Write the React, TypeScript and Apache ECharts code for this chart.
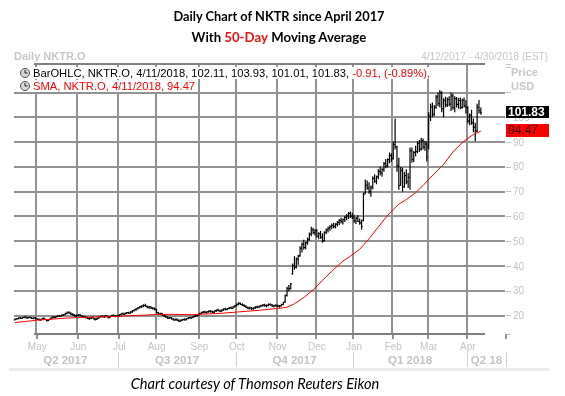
import React, { useEffect, useRef } from "react";
import * as echarts from "echarts";

// ---- calendar ----
const START_DATE = "2017-04-12";
const END_DATE = "2018-04-30";
const HOLIDAYS = [
  "2017-04-14", "2017-05-29", "2017-07-04", "2017-09-04", "2017-11-23", "2017-12-25",
  "2018-01-01", "2018-01-15", "2018-02-19", "2018-03-30",
];
const MONTHS = ["Jan", "Feb", "Mar", "Apr", "May", "Jun", "Jul", "Aug", "Sep", "Oct", "Nov", "Dec"];
const QUARTER_LABELS = ["Q2 2017", "Q3 2017", "Q4 2017", "Q1 2018", "Q2 18"];
const Y_GRID = [20, 30, 40, 50, 60, 70, 80, 90, 100, 110];

// ---- daily OHLC bars [open, high, low, close], one row per trading day from 4/12/2017 ----
const OHLC_APR17 = [
  [18.3, 18.9, 18.0, 18.6], [18.6, 19.0, 18.3, 18.8], [18.8, 19.3, 18.5, 19.1], [19.1, 19.4, 18.7, 18.9],
  [18.9, 19.5, 18.8, 19.3], [19.3, 19.7, 19.0, 19.5], [19.5, 19.6, 18.9, 19.1], [19.1, 19.5, 18.8, 19.3],
  [19.3, 19.6, 19.0, 19.2], [19.2, 19.4, 18.7, 18.9], [18.9, 19.3, 18.6, 19.1], [19.1, 19.4, 18.5, 18.7],
];
const OHLC_MAY17 = [
  [18.7, 19.0, 18.2, 18.5], [18.5, 18.9, 18.0, 18.3], [18.3, 18.8, 17.9, 18.6], [18.6, 19.2, 18.4, 19.0],
  [19.0, 19.1, 18.2, 18.4], [18.4, 18.7, 17.6, 18.0], [18.0, 18.6, 17.8, 18.4], [18.4, 19.2, 18.3, 19.0],
  [19.0, 19.6, 18.8, 19.4], [19.4, 19.8, 19.0, 19.3], [19.3, 19.9, 19.1, 19.7], [19.7, 20.2, 19.4, 19.9],
  [19.9, 20.3, 19.5, 19.8], [19.8, 20.5, 19.6, 20.2], [20.2, 20.7, 19.9, 20.4], [20.4, 21.2, 20.2, 20.9],
  [20.9, 21.7, 20.6, 21.3], [21.3, 21.8, 20.8, 21.0], [21.0, 21.4, 20.3, 20.6], [20.6, 21.0, 20.0, 20.3],
  [20.3, 20.6, 19.6, 19.9], [19.9, 20.4, 19.5, 20.1],
];
const OHLC_JUN17 = [
  [20.1, 20.6, 19.7, 20.3], [20.3, 20.7, 19.8, 20.0], [20.0, 20.3, 19.4, 19.6], [19.6, 20.0, 19.1, 19.4],
  [19.4, 19.8, 18.9, 19.2], [19.2, 19.5, 18.6, 18.8], [18.8, 19.3, 18.3, 18.9], [18.9, 19.6, 18.7, 19.3],
  [19.3, 19.5, 18.5, 18.7], [18.7, 19.1, 18.0, 18.5], [18.5, 19.2, 18.2, 19.0], [19.0, 19.7, 18.8, 19.5],
  [19.5, 20.0, 19.2, 19.7], [19.7, 20.2, 19.3, 19.6], [19.6, 20.1, 19.1, 19.9], [19.9, 20.3, 19.4, 19.6],
  [19.6, 20.0, 18.9, 19.3], [19.3, 19.9, 19.0, 19.7], [19.7, 20.4, 19.5, 20.1], [20.1, 20.5, 19.6, 19.8],
  [19.8, 20.2, 19.3, 19.9], [19.9, 20.3, 19.4, 20.0],
];
const OHLC_JUL17 = [
  [20.0, 20.6, 19.7, 20.4], [20.4, 21.0, 20.1, 20.8], [20.8, 21.3, 20.4, 20.6], [20.6, 21.2, 20.3, 21.0],
  [21.0, 21.5, 20.6, 21.2], [21.2, 21.6, 20.7, 21.0], [21.0, 21.8, 20.8, 21.5], [21.5, 22.3, 21.2, 22.0],
  [22.0, 22.6, 21.7, 22.4], [22.4, 23.1, 22.0, 22.8], [22.8, 23.5, 22.5, 23.2], [23.2, 23.9, 22.9, 23.6],
  [23.6, 24.2, 23.1, 23.9], [23.9, 24.6, 23.4, 24.1], [24.1, 24.8, 23.6, 23.8], [23.8, 24.1, 23.0, 23.4],
  [23.4, 23.9, 22.8, 23.5], [23.5, 23.8, 22.7, 23.0], [23.0, 23.5, 22.4, 22.9], [22.9, 23.3, 22.1, 22.5],
];
const OHLC_AUG17 = [
  [22.5, 22.6, 20.8, 21.2], [21.2, 21.5, 20.4, 20.7], [20.7, 21.2, 20.2, 20.9], [20.9, 21.1, 20.0, 20.3],
  [20.3, 20.6, 19.5, 19.8], [19.8, 20.2, 19.1, 19.4], [19.4, 19.8, 18.7, 19.0], [19.0, 19.5, 18.6, 19.2],
  [19.2, 19.4, 18.4, 18.7], [18.7, 19.0, 18.0, 18.3], [18.3, 18.8, 17.9, 18.6], [18.6, 18.9, 17.8, 18.1],
  [18.1, 18.5, 17.4, 17.8], [17.8, 18.4, 17.5, 18.2], [18.2, 18.7, 17.8, 18.5], [18.5, 18.9, 18.0, 18.3],
  [18.3, 19.0, 18.1, 18.8], [18.8, 19.4, 18.5, 19.2], [19.2, 19.6, 18.8, 19.0], [19.0, 19.7, 18.9, 19.5],
  [19.5, 20.0, 19.2, 19.8], [19.8, 20.4, 19.5, 20.1], [19.9, 20.5, 19.6, 20.3],
];
const OHLC_SEP17 = [
  [20.3, 21.1, 20.1, 20.8], [20.8, 21.6, 20.6, 21.3], [21.3, 21.9, 20.9, 21.5], [21.5, 22.0, 21.0, 21.3],
  [21.3, 21.8, 20.8, 21.6], [21.6, 22.2, 21.2, 21.8], [21.8, 22.3, 21.3, 21.6], [21.6, 22.0, 21.0, 21.4],
  [21.4, 22.1, 21.1, 21.9], [21.9, 22.5, 21.5, 22.2], [22.2, 22.8, 21.8, 22.0], [22.0, 22.4, 21.4, 21.8],
  [21.8, 22.6, 21.6, 22.3], [22.3, 23.0, 22.0, 22.7], [22.7, 23.2, 22.1, 22.5], [22.5, 23.1, 22.2, 22.9],
  [22.9, 23.5, 22.6, 23.2], [23.2, 23.7, 22.7, 23.0], [23.0, 23.8, 22.8, 23.6], [23.6, 24.3, 23.3, 24.0],
];
const OHLC_OCT17 = [
  [24.0, 24.9, 23.7, 24.6], [24.6, 25.4, 24.2, 25.0], [25.0, 25.3, 24.3, 24.5], [24.5, 25.0, 23.9, 24.2],
  [24.2, 24.6, 23.5, 23.8], [23.8, 24.2, 23.0, 23.3], [23.3, 23.7, 22.6, 23.0], [23.0, 23.6, 22.5, 23.2],
  [23.2, 23.5, 22.3, 22.8], [22.8, 23.4, 22.4, 23.1], [23.1, 23.8, 22.8, 23.5], [23.5, 24.0, 23.0, 23.4],
  [23.4, 24.1, 23.1, 23.8], [23.8, 24.4, 23.4, 24.1], [24.1, 24.6, 23.6, 24.3], [24.3, 24.8, 23.7, 24.0],
  [24.0, 24.5, 23.4, 24.2], [24.2, 24.9, 23.8, 24.5], [24.5, 25.0, 24.0, 24.3], [24.3, 24.7, 23.6, 23.9],
  [23.9, 24.4, 23.3, 24.1], [24.1, 24.6, 23.6, 24.0],
];
const OHLC_NOV17 = [
  [24.0, 24.5, 23.4, 23.8], [23.8, 24.3, 23.2, 24.0], [24.0, 24.8, 23.7, 24.5], [24.5, 25.6, 24.2, 25.3],
  [25.5, 28.5, 25.2, 28.0], [28.2, 31.7, 27.7, 31.0], [31.0, 32.4, 29.8, 30.8], [31.0, 33.2, 30.5, 32.8],
  [37.0, 41.0, 36.5, 40.2], [40.2, 44.0, 38.5, 39.5], [39.5, 43.5, 39.0, 42.8], [42.8, 44.6, 40.5, 43.9],
  [44.2, 48.0, 43.8, 47.2], [47.2, 49.5, 45.5, 48.8], [48.8, 50.6, 46.6, 47.5], [47.5, 49.8, 46.8, 49.4],
  [49.4, 51.5, 48.6, 50.8], [50.8, 53.5, 50.2, 52.9], [52.9, 55.9, 52.0, 54.6], [54.6, 55.5, 52.8, 53.5],
  [53.5, 55.0, 52.3, 54.2],
];
const OHLC_DEC17 = [
  [54.2, 54.8, 51.5, 52.0], [52.0, 53.6, 50.8, 53.0], [53.0, 54.2, 51.0, 51.6], [51.6, 53.2, 49.4, 50.2],
  [50.2, 54.0, 49.8, 53.6], [53.6, 55.2, 52.8, 54.6], [54.6, 56.0, 53.5, 55.3], [55.3, 56.5, 54.2, 55.8],
  [55.8, 57.2, 54.8, 56.4], [56.4, 57.5, 55.3, 55.9], [55.9, 57.3, 55.2, 56.9], [56.9, 58.2, 56.0, 57.6],
  [57.6, 59.0, 56.5, 58.4], [58.4, 59.5, 57.2, 58.0], [58.0, 59.2, 56.8, 58.8], [58.8, 60.3, 57.8, 59.6],
  [59.6, 61.0, 58.5, 60.2], [60.2, 61.8, 59.0, 61.2], [61.2, 62.0, 59.4, 60.1], [60.1, 61.5, 59.0, 59.7],
];
const OHLC_JAN18 = [
  [59.7, 60.7, 57.5, 58.2], [58.2, 59.8, 57.0, 59.3], [59.3, 60.5, 57.8, 58.0], [58.0, 59.2, 56.7, 57.4],
  [57.4, 58.7, 54.7, 56.0], [58.5, 69.6, 58.0, 68.8], [69.5, 74.9, 69.0, 72.6], [72.6, 74.5, 70.8, 71.5],
  [71.5, 73.8, 69.2, 70.0], [70.0, 72.5, 68.0, 71.8], [71.8, 76.2, 71.0, 75.4], [75.4, 77.0, 73.5, 74.2],
  [74.2, 76.5, 73.0, 76.0], [76.0, 79.0, 75.0, 78.2], [78.2, 80.2, 76.5, 77.5], [77.5, 79.5, 76.0, 79.0],
  [79.0, 82.0, 78.0, 81.3], [81.3, 83.2, 79.5, 80.4], [80.4, 83.5, 79.8, 82.9], [82.9, 85.8, 81.5, 84.6],
  [84.6, 85.5, 82.0, 83.3],
];
const OHLC_FEB18 = [
  [83.3, 90.3, 83.0, 89.0], [89.0, 99.5, 87.0, 88.2], [88.0, 88.5, 78.0, 80.5], [80.5, 83.7, 70.8, 72.5],
  [72.5, 80.0, 72.4, 78.5], [78.5, 79.7, 70.1, 72.0], [72.0, 78.0, 71.5, 76.5], [76.5, 79.0, 73.0, 74.0],
  [74.0, 77.5, 71.5, 75.8], [75.8, 87.8, 70.8, 86.5], [86.5, 87.8, 81.7, 83.0], [83.0, 86.5, 82.0, 85.8],
  [85.8, 88.5, 84.3, 86.2], [86.2, 90.3, 85.5, 89.4], [89.4, 90.8, 86.0, 87.2], [87.2, 91.8, 86.5, 90.6],
  [90.6, 91.5, 87.0, 88.0], [88.0, 90.5, 86.5, 89.2], [89.2, 90.3, 82.2, 84.0],
];
const OHLC_MAR18 = [
  [88.0, 102.0, 87.0, 100.5], [100.5, 105.5, 98.5, 104.2], [104.2, 106.0, 100.0, 101.2], [101.2, 105.0, 100.4, 104.0],
  [104.0, 109.0, 103.5, 108.2], [108.2, 110.0, 104.5, 105.5], [105.5, 111.0, 104.0, 109.8], [109.8, 110.5, 102.0, 103.5],
  [103.5, 107.7, 100.0, 106.8], [106.8, 108.3, 104.0, 105.0], [105.0, 108.0, 104.2, 107.2], [107.2, 108.5, 104.5, 105.3],
  [105.3, 110.0, 102.5, 108.6], [108.6, 109.5, 103.0, 104.0], [104.0, 108.5, 102.0, 107.5], [107.5, 108.2, 104.0, 105.2],
  [105.2, 107.8, 103.5, 106.8], [106.8, 108.0, 103.2, 104.0], [104.0, 107.5, 103.5, 106.9], [106.9, 108.0, 104.0, 104.6],
  [104.6, 107.0, 101.5, 104.0],
];
const OHLC_APR18 = [
  [104.0, 104.5, 97.5, 98.5], [98.5, 101.5, 96.8, 100.8], [100.8, 103.0, 97.0, 97.8], [97.8, 99.5, 94.0, 96.0],
  [96.0, 97.8, 90.3, 94.5], [94.5, 105.5, 94.0, 104.0], [104.0, 107.0, 101.5, 102.74], [102.11, 103.93, 101.01, 101.83],
];

// ---- 50-day SMA: [trading-day index, value] ----
const SMA_POINTS = [
  [0, 17.2], [5, 17.6], [12, 18.2], [20, 18.6], [25, 18.9], [33, 19.2], [40, 19.4], [50, 19.6],
  [56, 19.7], [62, 20.0], [70, 20.2], [76, 20.5], [85, 20.5], [95, 20.4], [100, 20.6], [110, 20.9],
  [120, 21.5], [130, 22.1], [141, 22.9], [146, 23.4], [150, 24.8], [155, 27.3], [160, 30.4], [165, 34.2],
  [170, 37.9], [176, 42.0], [180, 44.0], [185, 46.8], [190, 51.0], [195, 55.8], [200, 60.5], [203, 62.8],
  [206, 65.0], [210, 66.8], [215, 69.6], [219, 72.5], [222, 74.9], [226, 78.0], [230, 81.0], [235, 86.0],
  [240, 89.8], [245, 92.6], [250, 94.47],
];

const Y_MIN = 12.6;
const Y_MAX = 121.5;

function buildTradingDays(start: string, end: string, holidays: string[]): string[] {
  const out: string[] = [];
  const d = new Date(start + "T00:00:00Z");
  const e = new Date(end + "T00:00:00Z");
  while (d <= e) {
    const wd = d.getUTCDay();
    const s = d.toISOString().slice(0, 10);
    if (wd !== 0 && wd !== 6 && holidays.indexOf(s) < 0) out.push(s);
    d.setUTCDate(d.getUTCDate() + 1);
  }
  return out;
}

const UI = "'Liberation Sans', Arial, sans-serif";
const GRID = "#929292";
const LIGHT = "#c4c4c4";

function buildOption() {
  const dates = buildTradingDays(START_DATE, END_DATE, HOLIDAYS);
  const ohlc = [
    ...OHLC_APR17, ...OHLC_MAY17, ...OHLC_JUN17, ...OHLC_JUL17, ...OHLC_AUG17, ...OHLC_SEP17,
    ...OHLC_OCT17, ...OHLC_NOV17, ...OHLC_DEC17, ...OHLC_JAN18, ...OHLC_FEB18, ...OHLC_MAR18, ...OHLC_APR18,
  ];
  const barData = ohlc.map((r, i) => [i, r[0], r[1], r[2], r[3]]);
  const lastIdx = ohlc.length - 1;
  const last = ohlc[lastIdx];
  const prev = ohlc[lastIdx - 1];
  const chg = last[3] - prev[3];
  const pct = (chg / prev[3]) * 100;
  const [yy, mm, dd] = dates[lastIdx].split("-").map(Number);
  const dateStr = `${mm}/${dd}/${yy}`;
  const lastSma = SMA_POINTS[SMA_POINTS.length - 1][1];

  const monthStart = new Set<number>();
  const quarterStart = new Set<number>();
  const quarterMid = new Map<number, string>();
  let qFirst = 0;
  let qCount = 0;
  const qOf = (s: string) => s.slice(0, 4) + Math.floor((Number(s.slice(5, 7)) - 1) / 3);
  for (let i = 1; i <= dates.length; i++) {
    if (i < dates.length && dates[i].slice(5, 7) !== dates[i - 1].slice(5, 7)) monthStart.add(i);
    if (i === dates.length || qOf(dates[i]) !== qOf(dates[i - 1])) {
      quarterMid.set(Math.floor((qFirst + i - 1) / 2), QUARTER_LABELS[qCount]);
      qCount++;
      qFirst = i;
      if (i < dates.length) quarterStart.add(i);
    }
  }
  const monthLines = Array.from(monthStart).map((i) => [i, Y_MIN]);
  const hLines = Y_GRID.map((v) => [0, v]);
  const tags = [
    [lastIdx, last[3], 0],
    [lastIdx, lastSma, 1],
  ];

  const clock = (cy: number) => ({
    type: "group",
    children: [
      { type: "circle", z: 100, shape: { cx: 25, cy, r: 4.5 }, style: { fill: "#d6d6d6", stroke: "#505050", lineWidth: 1 } },
      { type: "line", z: 101, shape: { x1: 25, y1: cy, x2: 25, y2: cy - 3 }, style: { stroke: "#202020", lineWidth: 1 } },
      { type: "line", z: 101, shape: { x1: 25, y1: cy, x2: 27.5, y2: cy }, style: { stroke: "#202020", lineWidth: 1 } },
    ],
  });

  return {
    animation: false,
    grid: { left: 14, right: 59, top: 64, bottom: 62, outerBoundsMode: "none" },
    xAxis: [
      {
        type: "category",
        data: dates,
        axisLine: { show: false },
        axisTick: {
          show: true,
          interval: (i: number) => monthStart.has(i),
          length: 5,
          lineStyle: { color: GRID, width: 2 },
        },
        splitLine: { show: false },
        axisLabel: {
          interval: (i: number) => monthStart.has(i),
          formatter: (v: string) => MONTHS[Number(v.slice(5, 7)) - 1],
          color: LIGHT,
          fontSize: 10,
          fontFamily: UI,
          margin: 7,
        },
      },
      {
        type: "category",
        data: dates,
        position: "bottom",
        offset: 18,
        axisLine: { show: false },
        axisTick: {
          show: true,
          interval: (i: number) => quarterStart.has(i),
          length: 15,
          lineStyle: { color: "#d0d0d0", width: 1 },
        },
        splitLine: { show: false },
        axisLabel: {
          interval: (i: number) => quarterMid.has(i),
          formatter: (_v: string, i: number) => quarterMid.get(i) || "",
          color: LIGHT,
          fontSize: 11.5,
          fontWeight: "bold",
          fontFamily: UI,
          margin: 2,
        },
      },
    ],
    yAxis: {
      type: "value",
      position: "right",
      min: Y_MIN,
      max: Y_MAX,
      splitNumber: 11,
      axisLine: { show: false },
      axisTick: { show: true, length: 5, lineStyle: { color: LIGHT } },
      splitLine: { show: false },
      axisLabel: {
        formatter: (v: number) => (v > 105 || v < 15 ? "" : String(v)),
        color: LIGHT,
        fontSize: 10,
        fontFamily: UI,
        margin: 7,
      },
    },
    series: [
      {
        type: "custom",
        z: 2,
        data: hLines,
        encode: { x: 0, y: 1 },
        renderItem: (params: any, api: any) => {
          const cs = params.coordSys;
          const y = Math.round(api.coord([0, api.value(1)])[1]);
          return { type: "line", shape: { x1: cs.x, y1: y, x2: cs.x + cs.width - 1, y2: y }, style: { stroke: GRID, lineWidth: 2 } };
        },
      },
      {
        type: "custom",
        z: 2,
        data: monthLines,
        encode: { x: 0, y: 1 },
        renderItem: (params: any, api: any) => {
          const cs = params.coordSys;
          const c = api.coord([api.value(0), api.value(1)]);
          const bw = api.size([1, 0])[0];
          const x = Math.round(c[0] - bw / 2);
          return { type: "line", shape: { x1: x, y1: cs.y, x2: x, y2: cs.y + cs.height }, style: { stroke: GRID, lineWidth: 2 } };
        },
      },
      {
        type: "custom",
        name: "BarOHLC",
        data: barData,
        encode: { x: 0, y: [1, 2, 3, 4] },
        z: 3,
        renderItem: (_p: any, api: any) => {
          const i = api.value(0);
          const x = api.coord([i, api.value(2)])[0];
          const hi = api.coord([i, api.value(2)])[1];
          const lo = api.coord([i, api.value(3)])[1];
          const op = api.coord([i, api.value(1)])[1];
          const cl = api.coord([i, api.value(4)])[1];
          return {
            type: "group",
            children: [
              { type: "line", shape: { x1: x, y1: hi, x2: x, y2: lo }, style: { stroke: "#000", lineWidth: 1.2 } },
              { type: "line", shape: { x1: x - 1.2, y1: op, x2: x, y2: op }, style: { stroke: "#000", lineWidth: 1 } },
              { type: "line", shape: { x1: x, y1: cl, x2: x + 1.2, y2: cl }, style: { stroke: "#000", lineWidth: 1 } },
            ],
          };
        },
      },
      {
        type: "line",
        name: "SMA",
        data: SMA_POINTS,
        showSymbol: false,
        z: 4,
        lineStyle: { color: "#ff0000", width: 1 },
      },
      {
        type: "custom",
        name: "tags",
        z: 6,
        clip: false,
        data: tags,
        encode: { x: 0, y: 1 },
        renderItem: (params: any, api: any) => {
          const cs = params.coordSys;
          const v = api.value(1);
          const y = api.coord([api.value(0), v])[1];
          const isSma = api.value(2) === 1;
          const rh = isSma ? 13 : 12;
          return {
            type: "group",
            children: [
              { type: "rect", shape: { x: cs.x + cs.width, y: Math.round(y - 1 - rh / 2), width: 43, height: rh }, style: { fill: isSma ? "#ff0000" : "#000" } },
              {
                type: "text", x: cs.x + cs.width + 2, y: Math.round(y - 1),
                style: {
                  text: v.toFixed(2), fill: isSma ? "#3a0000" : "#fff",
                  font: `${isSma ? "" : "bold "}12px ${UI}`, align: "left", verticalAlign: "middle",
                },
              },
            ],
          };
        },
      },
    ],
    graphic: [
      {
        type: "text", x: 279, y: 16, z: 100,
        style: { text: "Daily Chart of NKTR since April 2017", font: "bold 12.8px Lato", fill: "#000", align: "center", verticalAlign: "middle" },
      },
      {
        type: "text", x: 279, y: 37, z: 100,
        style: {
          text: "{b|With }{r|50-Day}{b| Moving Average}",
          align: "center", verticalAlign: "middle",
          rich: {
            b: { fontSize: 13.2, fontWeight: "bold", fontFamily: "Lato", fill: "#000" },
            r: { fontSize: 13.2, fontWeight: "bold", fontFamily: "Lato", fill: "#f01010" },
          },
        },
      },
      {
        type: "text", x: 14, y: 56, z: 100,
        style: { text: "Daily NKTR.O", font: `bold 11px ${UI}`, fill: "#c8c8c8", align: "left", verticalAlign: "middle" },
      },
      {
        type: "text", x: 548, y: 56, z: 100,
        style: { text: "4/12/2017 - 4/30/2018 (EST)", font: `10px ${UI}`, fill: "#c8c8c8", align: "right", verticalAlign: "middle" },
      },
      { type: "line", z: 50, shape: { x1: 34, y1: 64, x2: 485, y2: 64 }, style: { stroke: "#808080", lineWidth: 2 } },
      { type: "line", z: 50, shape: { x1: 34, y1: 334, x2: 485, y2: 334 }, style: { stroke: "#808080", lineWidth: 2 } },
      { type: "rect", z: 90, shape: { x: 31, y: 67, width: 402, height: 12 }, style: { fill: "#fff" } },
      { type: "rect", z: 90, shape: { x: 31, y: 80, width: 164, height: 12 }, style: { fill: "#fff" } },
      clock(73),
      clock(86),
      {
        type: "text", x: 33, y: 73, z: 100,
        style: {
          text: `{k|BarOHLC, NKTR.O, ${dateStr}, ${last[0].toFixed(2)}, ${last[1].toFixed(2)}, ${last[2].toFixed(2)}, ${last[3].toFixed(2)}, }{r|${chg.toFixed(2)}, (${pct.toFixed(2)}%),}`,
          align: "left", verticalAlign: "middle",
          rich: {
            k: { fontSize: 11.2, fontFamily: UI, fill: "#000" },
            r: { fontSize: 11.2, fontFamily: UI, fill: "#ff0000" },
          },
        },
      },
      {
        type: "text", x: 33, y: 86, z: 100,
        style: { text: `SMA, NKTR.O, ${dateStr}, ${lastSma.toFixed(2)}`, font: `11.2px ${UI}`, fill: "#ff0000", align: "left", verticalAlign: "middle" },
      },
      {
        type: "text", x: 511, y: 72, z: 100,
        style: { text: "Price", font: `bold 11px ${UI}`, fill: "#c8c8c8", align: "left", verticalAlign: "middle" },
      },
      {
        type: "text", x: 511, y: 86, z: 100,
        style: { text: "USD", font: `bold 11px ${UI}`, fill: "#c8c8c8", align: "left", verticalAlign: "middle" },
      },
      { type: "rect", z: 10, shape: { x: 9, y: 368, width: 540, height: 3 }, style: { fill: "#ececec" } },
      {
        type: "text", x: 255, y: 383, z: 100,
        style: { text: "Chart courtesy of Thomson Reuters Eikon", font: "italic 14.6px Lato", fill: "#000", align: "center", verticalAlign: "middle" },
      },
    ],
  };
}

export default function App() {
  const ref = useRef<HTMLDivElement>(null);
  useEffect(() => {
    if (!ref.current) return;
    const chart = echarts.init(ref.current, null, { renderer: "svg" });
    chart.setOption(buildOption() as any);
    return () => chart.dispose();
  }, []);
  return <div ref={ref} style={{ position: "fixed", left: 0, top: 0, width: 565, height: 396 }} />;
}
